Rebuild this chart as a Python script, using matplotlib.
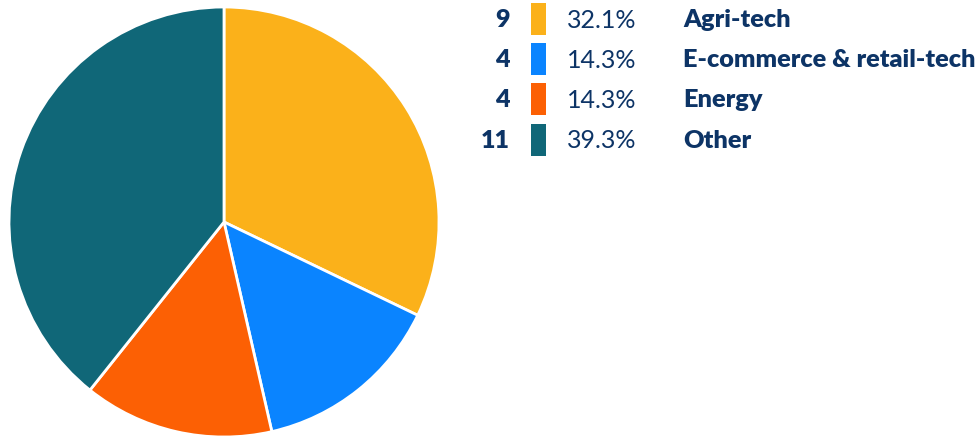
import matplotlib
matplotlib.use("Agg")
import matplotlib.pyplot as plt
from matplotlib.patches import Rectangle

# --- Datos ---
categories = ["Agri-tech", "E-commerce & retail-tech", "Energy", "Other"]
counts = [9, 4, 4, 11]
percent_labels = ["32.1%", "14.3%", "14.3%", "39.3%"]
colors = ["#FBB11A", "#0A84FF", "#FC6004", "#106778"]

NAVY = "#0D3466"
W, H = 978, 439

plt.rcParams['font.family'] = ['Lato', 'DejaVu Sans']

fig = plt.figure(figsize=(W / 100, H / 100), dpi=100)

# Pie axes (pixel layout: centre 224,223 radius 215)
cx, cy, r = 224, 223, 215
ax = fig.add_axes([(cx - r) / W, (H - cy - r) / H, 2 * r / W, 2 * r / H])
ax.pie(counts, colors=colors, startangle=90, counterclock=False, radius=1,
       wedgeprops=dict(edgecolor="white", linewidth=2))
ax.set_xlim(-1, 1)
ax.set_ylim(-1, 1)
ax.set_aspect("equal")
ax.axis("off")

# Leyenda manual
row_y = [20, 60, 100, 141]
for i, (n, pct, lab, col) in enumerate(zip(counts, percent_labels, categories, colors)):
    y = 1 - row_y[i] / H
    fig.text(510 / W, y, str(n), ha="right", va="center", fontsize=18,
             fontweight="heavy", color=NAVY)
    fig.patches.append(Rectangle((531 / W, y - 16 / H), 15 / W, 32 / H,
                                 transform=fig.transFigure, facecolor=col,
                                 edgecolor="none"))
    fig.text(567 / W, y, pct, ha="left", va="center", fontsize=18,
             color=NAVY)
    fig.text(683 / W, y, lab, ha="left", va="center", fontsize=18.2,
             fontweight="heavy", color=NAVY)

fig.savefig("out.png", dpi=100)
